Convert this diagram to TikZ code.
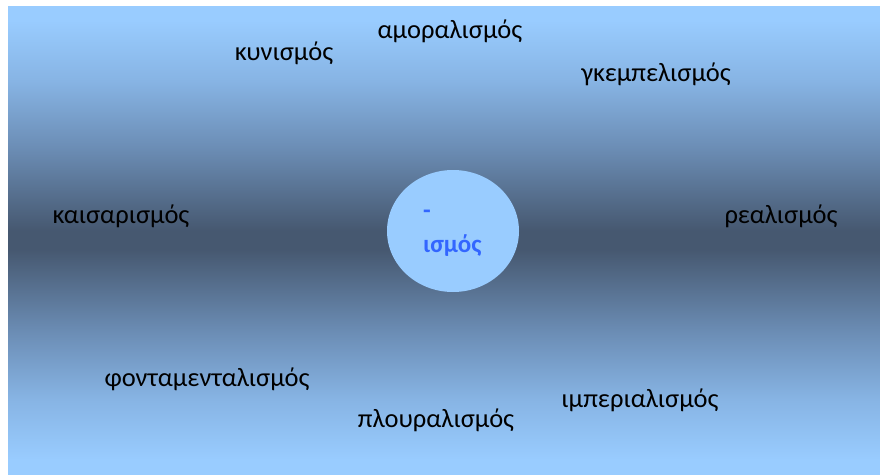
\documentclass[tikz,border=0pt]{standalone}
\usepackage{fontspec}
\setmainfont{Carlito}
\usepackage{xcolor}
\usetikzlibrary{positioning, shapes.geometric}

\definecolor{skylight}{RGB}{153,204,255}
\definecolor{skysoft}{RGB}{135,180,228}
\definecolor{skymid}{RGB}{108,142,182}
\definecolor{slatedark}{RGB}{70,88,112}
\definecolor{suffixblue}{RGB}{51,102,255}
% path is mapped onto 25bp..75bp of the shading
\pgfdeclareverticalshading{band}{100bp}{color(0bp)=(skylight); color(26.5bp)=(skylight); color(33bp)=(skysoft); color(40bp)=(skymid); color(49bp)=(slatedark); color(51bp)=(slatedark); color(60bp)=(skymid); color(67bp)=(skysoft); color(73.5bp)=(skylight); color(100bp)=(skylight)}

\begin{document}
\begin{tikzpicture}[x=1pt, y=-1pt,
    term/.style={font=\fontsize{26.5}{30}\selectfont, inner sep=0pt, anchor=center}]
    \useasboundingbox (0,0) rectangle (880,474);

    % Background band
    \shade[shading=band] (8,6) rectangle (880,474);

    % Centre
    \node[ellipse, fill=skylight, minimum width=132, minimum height=122] (suffix) at (453,231) {};
    \node[font=\fontsize{25}{34}\selectfont\bfseries, color=suffixblue, align=left, anchor=north west, inner sep=0pt] (suffix_text) at (423,210) {-\\ισμός};

    % Top
    \node[term] (kynismos) at (284,53) {κυνισμός};
    \node[term] (amoralismos) at (450,31) {αμοραλισμός};
    \node[term] (gkempelismos) at (656,74) {γκεμπελισμός};

    % Sides
    \node[term] (kaisarismos) at (121,216) {καισαρισμός};
    \node[term] (realismos) at (781,216) {ρεαλισμός};

    % Bottom
    \node[term] (fontamentalismos) at (207,379) {φονταμενταλισμός};
    \node[term] (ploumalismos) at (436,420) {πλουραλισμός};
    \node[term] (imperialismos) at (640,400) {ιμπεριαλισμός};
\end{tikzpicture}
\end{document}
